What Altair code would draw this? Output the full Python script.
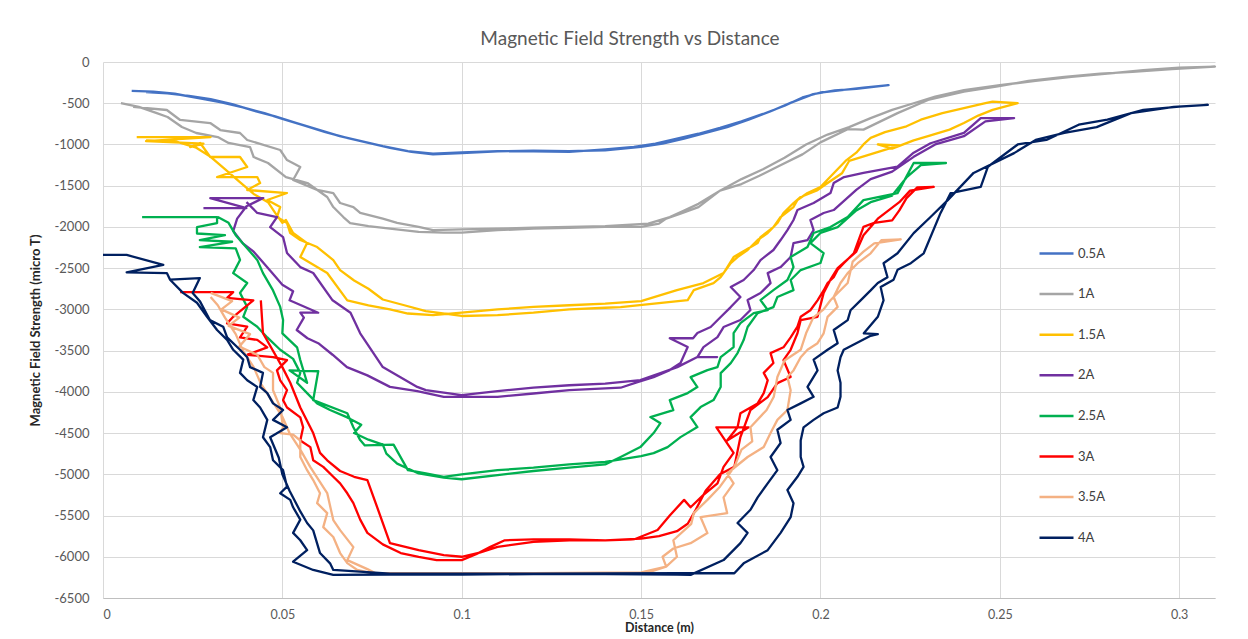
import altair as alt
import pandas as pd

SERIES = ["0.5A", "1A", "1.5A", "2A", "2.5A", "3A", "3.5A", "4A"]
COLORS = ["#4472C4", "#A5A5A5", "#FFC000", "#7030A0", "#00B050", "#FF0000", "#F4B183", "#002060"]

X_05 = [0.008,0.014,0.02,0.027,0.033,0.039,0.045,0.05,0.056,0.062,0.068,0.074,0.08,0.086,0.092,0.1,0.11,0.12,0.13,0.14,0.15,0.156,0.162,0.168,0.174,0.18,0.186,0.192,0.198,0.204,0.21,0.219,
        0.212,0.206,0.2,0.195,0.19,0.184,0.178,0.172,0.166,0.16,0.154,0.148,0.14,0.13,0.12,0.11,0.1,0.092,0.085,0.078,0.072,0.066,0.06,0.054,0.048,0.042,0.036,0.03,0.024,0.018,0.012]
Y_05 = [-350,-360,-385,-440,-490,-550,-620,-690,-770,-850,-920,-980,-1040,-1090,-1120,-1105,-1085,-1075,-1080,-1070,-1030,-990,-930,-860,-790,-700,-600,-490,-390,-345,-325,-280,
        -310,-340,-370,-430,-530,-630,-720,-800,-870,-930,-990,-1030,-1060,-1090,-1085,-1080,-1095,-1110,-1080,-1020,-960,-900,-820,-740,-660,-590,-510,-450,-410,-380,-365]

X_1 = [0.005,0.01,0.015,0.018,0.022,0.026,0.032,0.035,0.041,0.042,0.046,0.051,0.057,0.0625,0.0642,0.067,0.0689,0.074,0.08,0.088,0.095,0.1,0.11,0.12,0.13,0.14,0.15,0.155,0.157,0.161,0.166,0.172,0.178,0.183,0.189,0.195,0.2,0.2076,0.212,0.2215,0.23,0.24,0.249,0.258,0.268,0.278,0.287,0.298,0.31,
       0.3,0.29,0.28,0.27,0.26,0.25,0.24,0.232,0.226,0.22,0.214,0.208,0.202,0.196,0.19,0.184,0.178,0.172,0.166,0.162,0.158,0.152,0.14,0.13,0.12,0.11,0.1,0.092,0.088,0.082,0.078,0.0717,0.0698,0.0661,0.0642,0.0597,0.053,0.055,0.0513,0.0494,0.0402,0.0382,0.0327,0.0299,0.0215,0.0178,0.0084]
Y_1 = [-500,-545,-620,-667,-788,-861,-910,-982,-1031,-1152,-1225,-1395,-1468,-1637,-1759,-1880,-1953,-1990,-2020,-2060,-2070,-2070,-2040,-2020,-2010,-2000,-2000,-1960,-1900,-1840,-1760,-1560,-1480,-1380,-1250,-1120,-975,-815,-820,-620,-460,-360,-300,-230,-180,-140,-120,-85,-55,
       -70,-100,-140,-180,-230,-280,-340,-420,-500,-580,-680,-790,-880,-1000,-1160,-1300,-1420,-1560,-1720,-1800,-1880,-1960,-1990,-2000,-2010,-2020,-2030,-2040,-2000,-1950,-1900,-1831,-1759,-1710,-1589,-1552,-1431,-1273,-1189,-1067,-946,-861,-825,-740,-703,-582,-545]

X_15 = [0.0094,0.03,0.012,0.028,0.0243,0.0271,0.0299,0.0382,0.0402,0.0318,0.043,0.0438,0.0402,0.0513,0.0458,0.0494,0.0485,0.0513,0.0522,0.055,0.0597,0.0642,0.0661,0.07,0.074,0.078,0.084,0.09,0.1,0.11,0.12,0.13,0.14,0.1443,0.163,0.1647,0.1702,0.1722,0.175,0.1769,0.1797,0.1825,0.1853,0.188,0.1897,0.1925,0.1945,0.1992,0.202,0.206,0.208,0.222,0.216,0.22,0.226,0.23,0.236,0.24,0.244,0.248,0.255,
        0.248,0.246,0.24,0.234,0.228,0.224,0.218,0.214,0.212,0.21,0.207,0.2037,0.2,0.1964,0.1936,0.1925,0.1889,0.1869,0.1833,0.1825,0.1777,0.1758,0.173,0.1674,0.16,0.15,0.14,0.13,0.12,0.11,0.1,0.092,0.085,0.08,0.074,0.0681,0.0625,0.055,0.0569,0.053,0.051,0.05,0.048,0.046,0.042,0.038,0.034,0.03,0.026,0.02,0.012]
Y_15 = [-910,-910,-960,-990,-1031,-982,-1152,-1152,-1273,-1395,-1395,-1468,-1552,-1589,-1674,-1759,-1880,-1953,-2074,-2159,-2244,-2402,-2523,-2650,-2750,-2880,-2950,-3020,-3080,-3070,-3040,-3000,-2980,-2972,-2887,-2766,-2681,-2608,-2438,-2365,-2280,-2159,-2074,-1953,-1831,-1710,-1637,-1553,-1468,-1350,-1200,-1010,-1000,-1050,-950,-900,-820,-740,-650,-580,-500,-480,
        -500,-560,-620,-700,-780,-850,-920,-1000,-1100,-1200,-1350,-1516,-1589,-1674,-1759,-1880,-2002,-2123,-2196,-2317,-2365,-2559,-2681,-2766,-2900,-2930,-2950,-2970,-3000,-3040,-3070,-3050,-3000,-2950,-2890,-2559,-2365,-2196,-2074,-1916,-1950,-1830,-1700,-1600,-1450,-1300,-1150,-1040,-960,-950,-930]

X_2 = [0.028,0.04,0.0299,0.0447,0.04,0.0374,0.0363,0.039,0.042,0.045,0.047,0.05,0.053,0.052,0.06,0.055,0.056,0.054,0.057,0.06,0.064,0.068,0.0737,0.08,0.0876,0.095,0.1,0.11,0.12,0.13,0.1443,0.149,0.1535,0.158,0.161,0.163,0.158,0.1645,0.1657,0.1694,0.1722,0.175,0.1777,0.175,0.1786,0.1814,0.1833,0.1869,0.1889,0.1908,0.1925,0.1936,0.1981,0.2028,0.2037,0.2066,0.212,0.2215,0.226,0.2307,0.24,0.2447,0.254,
       0.246,0.24,0.232,0.226,0.22,0.214,0.21,0.2037,0.2009,0.1972,0.1981,0.1964,0.1925,0.1917,0.1889,0.1853,0.1861,0.1833,0.1797,0.1805,0.1777,0.173,0.1713,0.1674,0.1657,0.1712,0.1657,0.1601,0.1554,0.1498,0.14,0.13,0.12,0.11,0.1,0.09,0.0876,0.078,0.0717,0.069,0.064,0.0586,0.055,0.0513,0.0502,0.0466,0.0485,0.043,0.04]
Y_2 = [-1771,-1771,-1650,-1650,-1750,-1900,-2050,-2200,-2300,-2450,-2550,-2700,-2780,-2890,-3040,-3040,-3100,-3250,-3350,-3410,-3550,-3700,-3800,-3940,-3990,-4060,-4060,-4060,-4020,-3980,-3950,-3882,-3821,-3736,-3651,-3457,-3350,-3350,-3287,-3214,-3093,-2972,-2850,-2729,-2644,-2523,-2402,-2280,-2159,-2038,-1916,-1795,-1710,-1589,-1468,-1395,-1345,-1270,-1100,-985,-860,-680,-680,
       -720,-900,-1000,-1150,-1330,-1420,-1550,-1795,-1831,-1916,-2038,-2159,-2196,-2365,-2487,-2560,-2681,-2802,-2887,-3008,-3129,-3214,-3336,-3457,-3578,-3578,-3578,-3700,-3773,-3857,-3900,-3920,-3950,-3990,-4040,-3980,-3940,-3700,-3290,-3040,-2890,-2559,-2487,-2317,-2123,-2002,-1880,-1831,-1700]

X_25 = [0.0109,0.0318,0.0318,0.0262,0.0262,0.034,0.027,0.036,0.027,0.037,0.0382,0.0363,0.0402,0.0382,0.0402,0.0391,0.043,0.0458,0.0494,0.053,0.055,0.0541,0.0569,0.0597,0.0633,0.0681,0.072,0.07,0.074,0.078,0.079,0.082,0.088,0.095,0.1,0.11,0.12,0.13,0.14,0.1443,0.1498,0.1535,0.1554,0.1526,0.159,0.158,0.163,0.1657,0.1638,0.1685,0.1713,0.1722,0.1758,0.1758,0.1777,0.1814,0.1853,0.1833,0.1869,0.1908,0.1925,0.1917,0.1964,0.1981,0.2028,0.2076,0.212,0.2215,0.226,0.235,
        0.228,0.224,0.22,0.214,0.21,0.2048,0.2,0.1972,0.2009,0.2,0.1945,0.1917,0.1925,0.188,0.1869,0.1825,0.1797,0.1786,0.1769,0.175,0.1722,0.1722,0.1702,0.1666,0.1638,0.1657,0.161,0.1574,0.1535,0.15,0.14,0.13,0.12,0.11,0.1,0.095,0.09,0.085,0.081,0.073,0.0717,0.0698,0.0681,0.0586,0.06,0.052,0.0569,0.055,0.0541,0.05,0.0502,0.0494,0.0474,0.0446,0.043,0.04,0.037,0.035,0.032]
Y_25 = [-1880,-1880,-1953,-2002,-2080,-2100,-2160,-2180,-2244,-2260,-2400,-2560,-2680,-2800,-2970,-3090,-3210,-3340,-3490,-3600,-3770,-3890,-4015,-4140,-4220,-4310,-4400,-4500,-4580,-4640,-4750,-4870,-4990,-5040,-5060,-5010,-4960,-4920,-4880,-4790,-4670,-4500,-4380,-4306,-4221,-4100,-4015,-3942,-3821,-3736,-3700,-3578,-3457,-3287,-3166,-3045,-3008,-2887,-2766,-2644,-2487,-2365,-2244,-2074,-2002,-1880,-1675,-1590,-1225,-1225,
        -1250,-1400,-1620,-1700,-1800,-2002,-2074,-2196,-2317,-2438,-2523,-2644,-2766,-2850,-2972,-3045,-3214,-3372,-3530,-3651,-3773,-3942,-4100,-4185,-4306,-4427,-4549,-4670,-4743,-4780,-4850,-4880,-4920,-4950,-5000,-5030,-4990,-4950,-4640,-4650,-4585,-4430,-4260,-4100,-3750,-3740,-3890,-3615,-3460,-3290,-3130,-2970,-2770,-2560,-2400,-2250,-2100,-1950,-1880]

X_3 = [0.0215,0.0363,0.0346,0.0419,0.0363,0.0346,0.0402,0.0382,0.043,0.0458,0.0402,0.0474,0.0513,0.0485,0.0494,0.0513,0.0502,0.0513,0.055,0.0558,0.055,0.0578,0.0586,0.0614,0.0642,0.0661,0.0681,0.0698,0.0717,0.0737,0.078,0.083,0.088,0.093,0.1,0.104,0.108,0.112,0.12,0.13,0.14,0.148,0.1546,0.158,0.162,0.1638,0.1674,0.1713,0.173,0.1758,0.171,0.18,0.174,0.1769,0.1777,0.1825,0.1842,0.1853,0.1842,0.1869,0.1861,0.1897,0.1917,0.1936,0.1945,0.1972,0.1992,0.2009,0.202,0.2037,0.2048,0.2065,0.2093,0.212,0.215,0.22,0.222,0.224,0.227,0.2316,
       0.225,0.222,0.219,0.216,0.212,0.21,0.2048,0.2028,0.2009,0.1992,0.1945,0.1936,0.1917,0.1897,0.1917,0.188,0.1853,0.1805,0.1777,0.176,0.172,0.168,0.165,0.163,0.16,0.155,0.15,0.14,0.13,0.12,0.11,0.105,0.1,0.095,0.088,0.08,0.0764,0.0737,0.07,0.0661,0.0625,0.0605,0.0586,0.055,0.0522,0.05,0.0446,0.044]
Y_3 = [-2790,-2790,-2860,-2890,-3090,-3170,-3210,-3340,-3370,-3460,-3550,-3580,-3615,-3740,-3860,-3980,-4100,-4190,-4310,-4430,-4590,-4670,-4830,-4910,-5030,-5110,-5230,-5350,-5550,-5710,-5850,-5955,-6000,-6040,-6040,-5970,-5880,-5800,-5790,-5790,-5800,-5790,-5675,-5500,-5310,-5400,-5250,-5110,-4910,-4740,-4430,-4430,-4590,-4430,-4260,-4140,-4015,-3860,-3770,-3650,-3530,-3460,-3340,-3210,-3090,-3010,-2890,-2770,-2680,-2610,-2520,-2440,-2320,-2000,-1950,-1920,-1800,-1650,-1520,-1515,
       -1560,-1700,-1800,-1900,-2100,-2300,-2500,-2640,-2800,-3090,-3130,-3290,-3490,-3615,-3820,-3894,-4064,-4220,-4548,-4910,-5000,-5200,-5450,-5600,-5690,-5750,-5780,-5800,-5800,-5820,-5880,-5950,-6000,-5980,-5920,-5835,-5395,-5070,-5030,-4960,-4830,-4740,-4500,-4190,-3890,-3700,-3290,-2890]

X_35 = [0.03,0.036,0.033,0.038,0.035,0.041,0.038,0.043,0.045,0.0474,0.0474,0.0494,0.0502,0.0494,0.053,0.055,0.055,0.0569,0.0586,0.0605,0.0597,0.0625,0.0614,0.0642,0.0661,0.0681,0.0709,0.075,0.1,0.13,0.143,0.152,0.157,0.156,0.159,0.1638,0.1685,0.1666,0.174,0.173,0.1758,0.174,0.1797,0.1842,0.1861,0.188,0.1908,0.1917,0.1908,0.1925,0.1945,0.1964,0.1992,0.2009,0.202,0.2048,0.2037,0.2056,0.2076,0.2104,0.214,0.217,0.2224,
        0.215,0.212,0.209,0.2076,0.2028,0.2009,0.198,0.196,0.1945,0.19,0.188,0.187,0.185,0.1805,0.181,0.178,0.176,0.172,0.1685,0.1647,0.164,0.159,0.16,0.157,0.15,0.12,0.09,0.076,0.0737,0.0681,0.0698,0.0661,0.0642,0.0625,0.0578,0.055,0.052,0.05,0.047,0.044,0.042,0.039,0.037,0.034,0.032,0.03]
Y_35 = [-2800,-2900,-3000,-3100,-3200,-3300,-3450,-3550,-3700,-3770,-3980,-4190,-4430,-4500,-4520,-4590,-4790,-4950,-5070,-5230,-5350,-5470,-5640,-5760,-5955,-6077,-6160,-6200,-6200,-6200,-6195,-6190,-6120,-6000,-5900,-5835,-5713,-5520,-5470,-5280,-5110,-4990,-4790,-4670,-4500,-4340,-4220,-3980,-3820,-3740,-3580,-3490,-3410,-3290,-3090,-2970,-2850,-2680,-2560,-2440,-2320,-2160,-2150,
        -2200,-2300,-2420,-2680,-2890,-3000,-3100,-3290,-3490,-3620,-3820,-4060,-4220,-4430,-4600,-4700,-4910,-5150,-5310,-5470,-5600,-5800,-6000,-6120,-6190,-6200,-6200,-6200,-6150,-6041,-5883,-5677,-5555,-5228,-4913,-4700,-4500,-4300,-4100,-3900,-3700,-3500,-3300,-3100,-2950,-2850]

X_4 = [0.0,0.0066,0.0168,0.0066,0.0178,0.0187,0.0223,0.0262,0.029,0.0318,0.0346,0.0363,0.0391,0.0382,0.0402,0.043,0.0419,0.0438,0.0458,0.0446,0.0466,0.0474,0.0502,0.0513,0.0494,0.0522,0.053,0.055,0.053,0.055,0.0569,0.053,0.0586,0.0642,0.08,0.1,0.12,0.14,0.16,0.1638,
       0.173,0.1777,0.1797,0.1769,0.1805,0.1825,0.1853,0.188,0.1861,0.1889,0.188,0.1917,0.1908,0.1945,0.1981,0.1964,0.1992,0.1981,0.202,0.2048,0.2037,0.2076,0.2084,0.2112,0.214,0.216,0.2187,0.2176,0.2215,0.226,0.2307,0.2355,0.2427,0.254,0.26,0.268,0.277,0.2866,0.2985,0.308,
       0.3,0.29,0.28,0.272,0.263,0.255,0.2467,0.2447,0.2363,0.2335,0.2288,0.2252,0.2215,0.2204,0.2168,0.2176,0.216,0.2121,0.216,0.214,0.2065,0.2056,0.2048,0.2056,0.2056,0.2048,0.2009,0.1981,0.1953,0.1945,0.1945,0.1953,0.1936,0.1908,0.1925,0.1917,0.1889,0.1853,0.1786,0.176,0.16,0.12,0.08,0.0642,0.0633,0.0605,0.0586,0.0569,0.055,0.052,0.05,0.049,0.0466,0.0513,0.0474,0.0502,0.0474,0.0458,0.0438,0.0446,0.041,0.0402,0.0382,0.0346,0.0335,0.0298,0.027,0.025,0.027,0.0187]
Y_4 = [-2340,-2340,-2460,-2550,-2560,-2640,-2800,-2920,-3090,-3250,-3370,-3490,-3610,-3770,-3860,-3940,-4100,-4190,-4340,-4550,-4670,-4830,-4950,-5150,-5230,-5310,-5400,-5550,-5710,-5800,-5920,-6060,-6160,-6220,-6215,-6215,-6210,-6210,-6215,-6220,
       -6040,-5835,-5710,-5590,-5430,-5280,-5110,-4950,-4790,-4620,-4460,-4340,-4220,-4140,-4060,-3940,-3740,-3610,-3490,-3410,-3250,-3130,-3010,-2890,-2770,-2680,-2610,-2440,-2320,-2075,-1880,-1675,-1345,-1105,-945,-860,-790,-620,-545,-520,
       -540,-580,-700,-760,-945,-1000,-1270,-1515,-1590,-1830,-2320,-2440,-2520,-2640,-2730,-2890,-3090,-3290,-3300,-3320,-3490,-3580,-3740,-3890,-4060,-4190,-4260,-4340,-4430,-4590,-4790,-4910,-5030,-5190,-5350,-5520,-5710,-5920,-6080,-6200,-6200,-6205,-6205,-6160,-6080,-5955,-5680,-5590,-5450,-5200,-5000,-4800,-4550,-4430,-4340,-4220,-4140,-4015,-3940,-3770,-3700,-3580,-3490,-3340,-3210,-3130,-2900,-2800,-2620,-2640]

XS = [X_05, X_1, X_15, X_2, X_25, X_3, X_35, X_4]
YS = [Y_05, Y_1, Y_15, Y_2, Y_25, Y_3, Y_35, Y_4]

rows = []
for name, xs, ys in zip(SERIES, XS, YS):
    for i, (xv, yv) in enumerate(zip(xs, ys)):
        rows.append({"series": name, "x": xv, "y": yv, "i": i})
df = pd.DataFrame(rows)

FONT = "Lato"

chart = alt.Chart(df).mark_line(strokeWidth=2.3, strokeJoin="round").encode(
    x=alt.X("x:Q", title="Distance (m)",
            scale=alt.Scale(domain=[0, 0.31], nice=False, zero=False),
            axis=alt.Axis(values=[0, 0.05, 0.1, 0.15, 0.2, 0.25, 0.3], format="~g",
                          grid=True, gridColor="#D9D9D9", ticks=False,
                          domainColor="#BFBFBF", labelColor="#595959", labelFontSize=12.5,
                          labelFont=FONT, labelPadding=10, titleFont=FONT, titleFontSize=12.5,
                          titleFontWeight="bold", titleColor="#262626", titlePadding=1)),
    y=alt.Y("y:Q", title="Magnetic Field Strength (micro T)",
            scale=alt.Scale(domain=[-6500, 0], nice=False),
            axis=alt.Axis(values=list(range(-6500, 1, 500)),
                          labelExpr="replace(format(datum.value, 'd'), '\u2212', '-')",
                          grid=True, gridColor="#D9D9D9", ticks=False, domain=False,
                          labelColor="#595959", labelFontSize=13, labelFont=FONT, labelPadding=14,
                          titleFont=FONT, titleFontSize=13, titleFontWeight="bold",
                          titleColor="#262626", titlePadding=12)),
    color=alt.Color("series:N", scale=alt.Scale(domain=SERIES, range=COLORS),
                    legend=alt.Legend(title=None, orient="none", legendX=935, legendY=173,
                                      symbolType="stroke", symbolSize=1156, symbolStrokeWidth=2.5,
                                      labelFontSize=13, labelFont=FONT, labelColor="#404040",
                                      rowPadding=14.6, labelOffset=3)),
    order=alt.Order("i:Q"),
    detail="series:N",
).properties(
    width=1112,
    height=536,
    autosize=alt.AutoSizeParams(type="none"),
    padding={"left": 95, "top": 54, "right": 25, "bottom": 40},
    title=alt.TitleParams("Magnetic Field Strength vs Distance", fontSize=19, font=FONT,
                          fontWeight="normal", color="#595959", frame="group", anchor="middle",
                          dx=-29, offset=7),
).configure_view(stroke=None)

chart.save("out.html", embed_options={"renderer": "svg", "actions": False})
